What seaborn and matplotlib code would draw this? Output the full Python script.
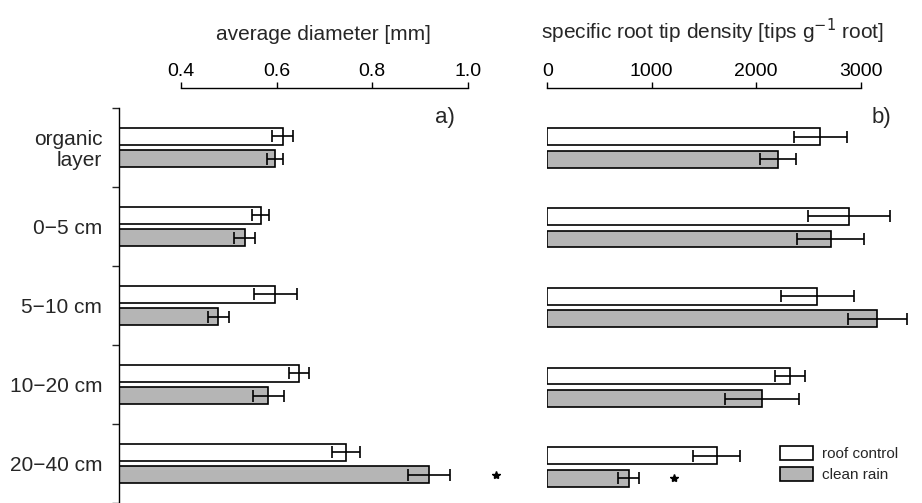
import matplotlib
matplotlib.use("Agg")
import matplotlib.pyplot as plt
import seaborn as sns
import pandas as pd
import numpy as np
from matplotlib.patches import Patch

sns.set_style("white")
plt.rcParams['font.family'] = ['Liberation Sans', 'DejaVu Sans']

depths = ["organic\nlayer", "0\u22125 cm", "5\u221210 cm", "10\u221220 cm", "20\u221240 cm"]
treatments = ["roof control", "clean rain"]

diam_roof = [0.613, 0.567, 0.597, 0.646, 0.745]
diam_clean = [0.597, 0.533, 0.478, 0.583, 0.919]
diam_roof_err = [0.022, 0.018, 0.045, 0.021, 0.030]
diam_clean_err = [0.017, 0.022, 0.022, 0.033, 0.044]

tips_roof = [2616, 2887, 2584, 2325, 1624]
tips_clean = [2211, 2715, 3161, 2057, 779]
tips_roof_err = [252, 394, 349, 142, 225]
tips_clean_err = [172, 321, 285, 355, 98]

# significance stars (x position, depth index) for clean rain
star_left = (1.06, 4)
star_right = (1215, 4)

colors = {"roof control": "white", "clean rain": "#b5b5b5"}

W, H = 922, 503
fig = plt.figure(figsize=(W / 100, H / 100), dpi=100)

ax1 = fig.add_axes([119 / W, 0, (505 - 119) / W, (503 - 88) / H])
ax2 = fig.add_axes([547.3 / W, 0, (922 - 547.3) / W, (503 - 88) / H])

def make_df(a, b):
    return pd.DataFrame({
        "depth": depths * 2,
        "treatment": ["roof control"] * 5 + ["clean rain"] * 5,
        "value": list(a) + list(b),
    })

def draw(ax, a, b, ea, eb, xlim):
    df = make_df(a, b)
    sns.barplot(data=df, x="value", y="depth", hue="treatment", orient="h",
                hue_order=treatments, order=depths, palette=colors,
                edgecolor="black", linewidth=1.2, width=0.564, gap=0.25,
                errorbar=None, legend=False, ax=ax)
    errs = [ea, eb]
    for cont, err in zip(ax.containers, errs):
        ys = [bar.get_y() + bar.get_height() / 2 for bar in cont]
        xs = [bar.get_width() for bar in cont]
        ax.errorbar(xs, ys, xerr=err, fmt="none", ecolor="black",
                    elinewidth=1.2, capsize=4, capthick=1.2, zorder=5)
    ax.set_xlim(*xlim)
    ax.set_ylim(4.451, -0.752)
    ax.set_ylabel("")
    ax.xaxis.set_ticks_position("top")
    ax.xaxis.set_label_position("top")
    ax.tick_params(axis="x", direction="out", length=4, width=1, pad=1.4,
                   labelsize=14, colors="black")
    for s in ["bottom", "right"]:
        ax.spines[s].set_visible(False)
    ax.spines["top"].set_linewidth(1)
    ax.spines["top"].set_color("black")

draw(ax1, diam_roof, diam_clean, diam_roof_err, diam_clean_err, (0.2703, 1.078))
draw(ax2, tips_roof, tips_clean, tips_roof_err, tips_clean_err, (0, 3588))

label_y = 1 + (88 - 39.5) / 415

ax1.set_xticks([0.4, 0.6, 0.8, 1.0], labels=["0.4", "0.6", "0.8", "1.0"])
ax1.spines["top"].set_bounds(0.4, 1.0)
ax1.set_xlabel("average diameter [mm]", fontsize=15)
ax1.xaxis.set_label_coords((323 - 119) / 386, label_y)
ax1.set_yticks([-0.5, 0.5, 1.5, 2.5, 3.5, 4.5], labels=[""] * 6)
ax1.set_yticks(range(5), labels=depths, minor=True)
ax1.tick_params(axis="y", which="major", direction="out", length=5, width=1, left=True)
ax1.tick_params(axis="y", which="minor", length=0, pad=12, labelsize=15, left=True)
for lab in ax1.get_yticklabels(minor=True):
    lab.set_multialignment("right")
    lab.set_linespacing(1.1)
ax1.spines["left"].set_bounds(-0.5, 5.5)
ax1.spines["left"].set_linewidth(1)
ax1.spines["left"].set_color("black")
ax1.text(0.973, -0.376, "a)", fontsize=16, ha="right", va="center")
ax1.plot(star_left[0], star_left[1] + 0.14, marker="*", color="black",
         markersize=6, linestyle="none", clip_on=False)

ax2.set_xticks([0, 1000, 2000, 3000], labels=["0", "1000", "2000", "3000"])
ax2.spines["top"].set_bounds(0, 3000)
ax2.set_xlabel("specific root tip density [tips g$^{-1}$ root]", fontsize=15)
ax2.xaxis.set_label_coords((713 - 547.3) / 374.7, label_y)
ax2.spines["left"].set_visible(False)
ax2.set_yticks([])
ax2.text(3298, -0.376, "b)", fontsize=16, ha="right", va="center")
ax2.plot(star_right[0], star_right[1] + 0.14, marker="*", color="black",
         markersize=6, linestyle="none", clip_on=False)

handles = [Patch(facecolor=colors[t], edgecolor="black", linewidth=1.2) for t in treatments]
ax2.legend(handles, treatments, loc="upper left", frameon=False,
           bbox_to_anchor=(780 / W, 1 - 446 / H), bbox_transform=fig.transFigure,
           borderpad=0, borderaxespad=0, fontsize=11, handlelength=2.16,
           handleheight=1.05, labelspacing=0.35, handletextpad=0.6)

fig.savefig("out.png", dpi=100)
